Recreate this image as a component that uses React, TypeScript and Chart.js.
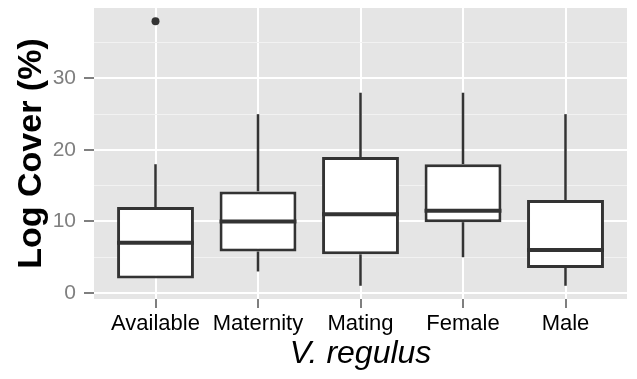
import { useEffect, useRef } from 'react';
import { Chart, registerables } from 'chart.js';

Chart.register(...registerables);

// Habitat groups along the x axis
const categories = ['Available', 'Maternity', 'Mating', 'Female', 'Male'];

// Five-number summaries per group (log cover, %)
const whiskerLow = [2, 3, 1, 5, 1];
const quartile1 = [2, 5.8, 5.4, 9.9, 3.5];
const medians = [7, 10, 11, 11.5, 6];
const quartile3 = [12, 14.2, 19, 18, 13];
const whiskerHigh = [18, 25, 28, 28, 25];

// Points beyond the whiskers: group index and value
const outlierGroups = [0];
const outlierValues = [38];

// Axis extents (data range padded by 5%, discrete axis padded by 0.6)
const yMin = -0.85;
const yMax = 39.85;
const xMin = -0.6;
const xMax = categories.length - 1 + 0.6;

const BOX_WIDTH = 0.75;
const FONT = "'Liberation Sans', Arial, sans-serif";
const INK = '#333333';
const AXIS_GREY = '#7F7F7F';

const panelBackground = {
  id: 'panelBackground',
  beforeDraw(chart: any) {
    const { ctx, chartArea } = chart;
    ctx.save();
    ctx.fillStyle = '#E5E5E5';
    ctx.fillRect(chartArea.left, chartArea.top, chartArea.right - chartArea.left, chartArea.bottom - chartArea.top);
    ctx.restore();
  },
};

const halfBoxPixels = (ctx: any) => {
  const s = ctx.chart.scales.x;
  return (Math.abs(s.getPixelForValue(1) - s.getPixelForValue(0)) * BOX_WIDTH) / 2;
};

export default function App() {
  const canvasRef = useRef<HTMLCanvasElement | null>(null);

  useEffect(() => {
    if (!canvasRef.current) return;

    const lowerWhiskers = categories.map((_, i) => ({ x: i, y: [whiskerLow[i], quartile1[i]] }));
    const upperWhiskers = categories.map((_, i) => ({ x: i, y: [quartile3[i], whiskerHigh[i]] }));
    const boxes = categories.map((_, i) => ({ x: i, y: [quartile1[i], quartile3[i]] }));
    const medianPts = categories.map((_, i) => ({ x: i, y: medians[i] }));
    const outlierPts = outlierGroups.map((g, i) => ({ x: g, y: outlierValues[i] }));

    const whiskerStyle = {
      type: 'bar',
      backgroundColor: INK,
      borderWidth: 0,
      barThickness: 2.5,
      inflateAmount: 0,
      grouped: false,
      order: 3,
    };

    const chart = new Chart(canvasRef.current, {
      type: 'bar',
      data: {
        datasets: [
          { ...whiskerStyle, label: 'lower whiskers', data: lowerWhiskers as any } as any,
          { ...whiskerStyle, label: 'upper whiskers', data: upperWhiskers as any } as any,
          {
            type: 'bar',
            label: 'boxes',
            data: boxes as any,
            backgroundColor: '#FFFFFF',
            borderColor: INK,
            borderWidth: 3,
            borderSkipped: false,
            inflateAmount: 0,
            categoryPercentage: 1,
            barPercentage: BOX_WIDTH,
            grouped: false,
            order: 2,
          } as any,
          {
            type: 'scatter',
            label: 'medians',
            data: medianPts,
            pointStyle: 'line',
            pointRadius: halfBoxPixels,
            borderColor: INK,
            borderWidth: 4,
            order: 1,
          } as any,
          {
            type: 'scatter',
            label: 'outliers',
            data: outlierPts,
            pointStyle: 'circle',
            pointRadius: 4,
            backgroundColor: INK,
            borderWidth: 0,
            order: 0,
          } as any,
        ],
      },
      options: {
        responsive: false,
        animation: false,
        events: [],
        layout: { padding: { top: 8, right: 10, left: 0, bottom: 0 } },
        plugins: {
          legend: { display: false },
          tooltip: { enabled: false },
        },
        scales: {
          x: {
            type: 'linear',
            min: xMin,
            max: xMax,
            offset: false,
            border: { display: false },
            grid: {
              offset: false,
              color: '#FFFFFF',
              lineWidth: 2,
              tickColor: AXIS_GREY,
              tickWidth: 2,
              tickLength: 9,
            },
            ticks: {
              stepSize: 1,
              includeBounds: false,
              autoSkip: false,
              maxRotation: 0,
              padding: 3,
              color: '#000000',
              font: { family: FONT, size: 22 },
              callback: (v: any) => categories[Number(v)] ?? '',
            },
            title: {
              display: true,
              text: 'V. regulus',
              color: '#000000',
              font: { family: FONT, size: 32, style: 'italic' },
              padding: { top: 0, bottom: 6 },
            },
            afterFit: (s: any) => {
              s.height = 80;
              s.paddingLeft = 0;
              s.paddingRight = 0;
            },
          },
          y: {
            type: 'linear',
            min: yMin,
            max: yMax,
            border: { display: false },
            grid: {
              color: (c: any) => (c.tick && c.tick.value % 10 === 0 ? '#FFFFFF' : '#F2F2F2'),
              lineWidth: (c: any) => (c.tick && c.tick.value % 10 === 0 ? 2 : 1),
              tickColor: (c: any) => (c.tick && c.tick.value % 10 === 0 ? AXIS_GREY : 'rgba(0,0,0,0)'),
              tickWidth: 2,
              tickLength: 10,
            },
            ticks: {
              stepSize: 5,
              includeBounds: false,
              autoSkip: false,
              padding: 8,
              color: AXIS_GREY,
              font: { family: FONT, size: 21 },
              callback: (v: any) => (Number(v) % 10 === 0 ? String(v) : ''),
            },
            title: {
              display: true,
              text: 'Log Cover (%)',
              color: '#000000',
              font: { family: FONT, size: 34, weight: 'bold' },
              padding: { top: 11, bottom: 0 },
            },
            afterFit: (s: any) => {
              s.width = 94;
              s.paddingTop = 0;
              s.paddingBottom = 0;
            },
          },
        },
      } as any,
      plugins: [panelBackground],
    });

    return () => chart.destroy();
  }, []);

  return (
    <div style={{ position: 'fixed', left: 0, top: 0, width: 637, height: 379, background: '#FFFFFF' }}>
      <canvas ref={canvasRef} width={637} height={379} />
    </div>
  );
}
